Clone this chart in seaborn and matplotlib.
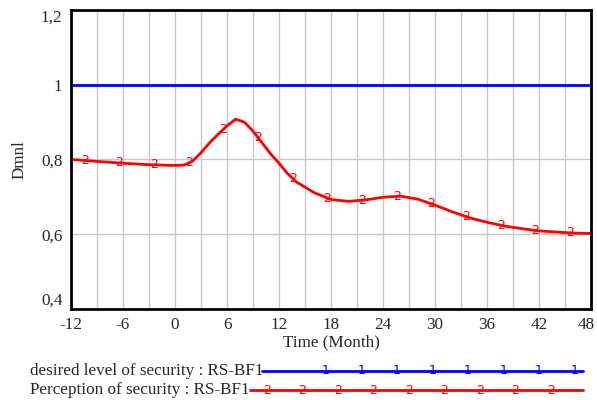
import matplotlib
matplotlib.use("Agg")
import matplotlib.pyplot as plt
import numpy as np
import pandas as pd
import seaborn as sns
from matplotlib.lines import Line2D

# data
months = [-12, -9, -6, -3, 0, 1, 2, 3, 4, 5, 6, 7, 8, 9, 10, 11, 12, 13, 14, 16,
          18, 20, 22, 24, 26, 28, 30, 32, 34, 36, 38, 40, 42, 44, 46, 48]
perception = [0.800, 0.795, 0.790, 0.786, 0.784, 0.785, 0.795, 0.818, 0.845, 0.868,
              0.890, 0.908, 0.900, 0.876, 0.846, 0.816, 0.790, 0.762, 0.740, 0.712,
              0.693, 0.688, 0.692, 0.699, 0.702, 0.694, 0.678, 0.660, 0.644, 0.632,
              0.622, 0.615, 0.609, 0.606, 0.603, 0.602]
desired = [1.0] * len(months)
marker_months = [-10.4, -6.4, -2.4, 1.6, 5.6, 9.6, 13.6, 17.6, 21.6, 25.6,
                 29.6, 33.6, 37.6, 41.6, 45.6]
ytick_vals = [0.4, 0.6, 0.8, 1.0, 1.2]
ytick_labels = ["0,4", "0,6", "0,8", "1", "1,2"]
xtick_vals = [-12, -6, 0, 6, 12, 18, 24, 30, 36, 42, 48]

df = pd.DataFrame({"month": months, "perception": perception, "desired": desired})

sns.set_style("white")
plt.rcParams['font.family'] = ['Liberation Serif', 'DejaVu Serif']

fig = plt.figure(figsize=(5.97, 4.0), dpi=100)
ax = fig.add_axes([71 / 597, 1 - 309 / 400, 520 / 597, 299 / 400])

sns.lineplot(data=df, x="month", y="desired", color="#0000ff", lw=2, ax=ax)
sns.lineplot(data=df, x="month", y="perception", color="#ff0000", lw=2, ax=ax)

# "2" markers along the red curve
for m in marker_months:
    ax.text(m, np.interp(m, months, perception), "2", color="#ff0000",
            fontsize=9, family="DejaVu Sans", ha="center", va="center")

ax.set_xlim(-12, 48)
ax.set_ylim(0.4, 1.2)
ax.set_xticks(np.arange(-12, 49, 3), minor=True)
ax.set_xticks(xtick_vals)
# last label drawn separately so it stays inside the image
ax.set_xticklabels([str(v) for v in xtick_vals[:-1]] + [""], fontsize=12.3)
ax.annotate(str(xtick_vals[-1]), xy=(xtick_vals[-1], 0), xycoords=ax.get_xaxis_transform(),
            xytext=(-3.5, -6), textcoords="offset points", ha="center", va="top",
            fontsize=12.3)
ax.set_yticks(ytick_vals)
ax.set_yticklabels(ytick_labels, fontsize=12.3)
ax.get_yticklabels()[0].set_va("bottom")
ax.get_yticklabels()[-1].set_va("top")
ax.tick_params(axis="both", which="both", length=0, pad=6)
ax.grid(True, which="both", color="#c8c8c8", lw=1)
ax.set_axisbelow(True)
for s in ax.spines.values():
    s.set_color("black")
    s.set_linewidth(2)
ax.set_xlabel("Time (Month)", fontsize=12.3, labelpad=1)
ax.set_ylabel("Dmnl", fontsize=12.3, labelpad=10)

# legend rows under the plot
fig.text(30 / 597, 1 - 371 / 400, "desired level of security : RS-BF1",
         fontsize=12.3, va="center", ha="left")
fig.text(30 / 597, 1 - 390 / 400, "Perception of security : RS-BF1",
         fontsize=12.3, va="center", ha="left")
fig.add_artist(Line2D([262 / 597, 583 / 597], [1 - 371 / 400] * 2,
                      color="#0000ff", lw=2, transform=fig.transFigure))
fig.add_artist(Line2D([250 / 597, 583 / 597], [1 - 390 / 400] * 2,
                      color="#ff0000", lw=2, transform=fig.transFigure))
for i in range(8):
    fig.text((326 + i * 35.5) / 597, 1 - 371 / 400, "1", color="#0000ff",
             fontsize=9, family="DejaVu Sans", ha="center", va="center")
for i in range(9):
    fig.text((267 + i * 35.5) / 597, 1 - 390 / 400, "2", color="#ff0000",
             fontsize=9, family="DejaVu Sans", ha="center", va="center")

fig.savefig("out.png", dpi=100)
